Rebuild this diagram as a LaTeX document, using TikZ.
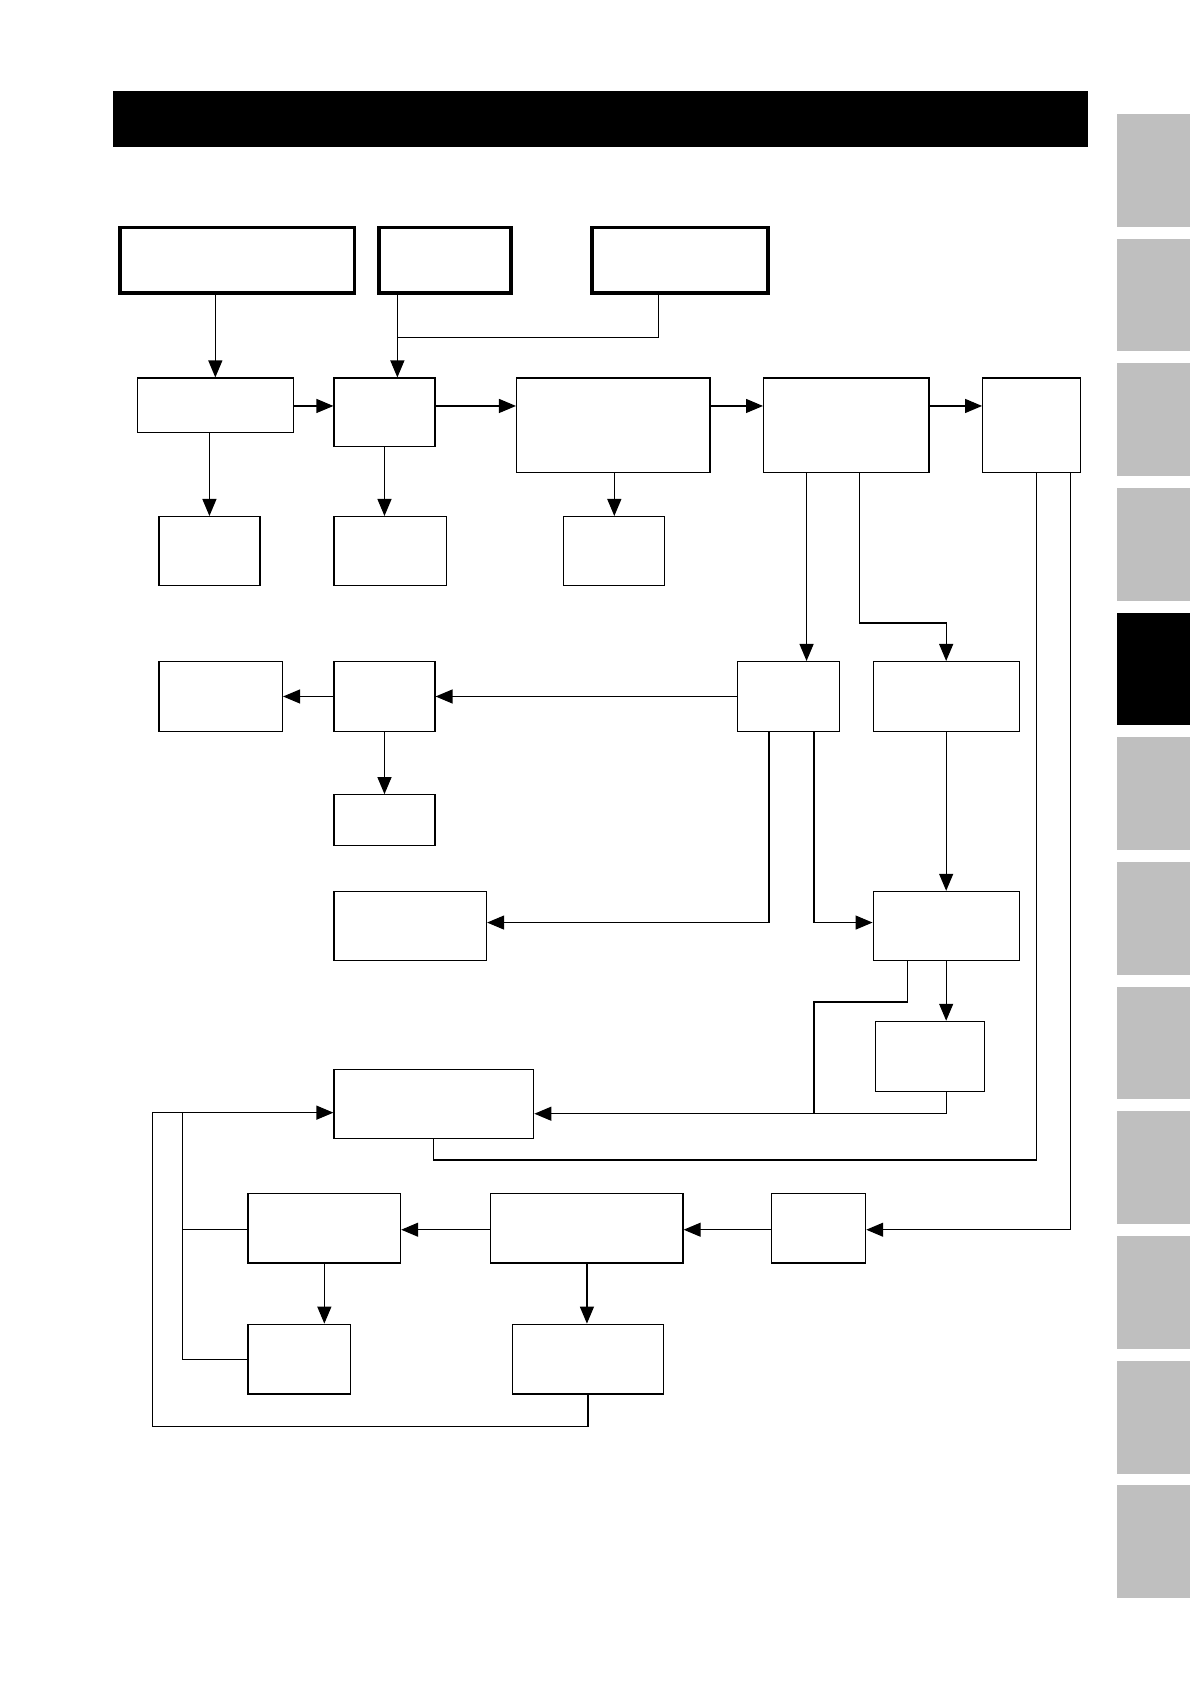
\documentclass[tikz,border=0pt]{standalone}
\usepackage{tikz,xcolor}
\usetikzlibrary{arrows.meta,fit}

\definecolor{tabgray}{gray}{0.75}

\begin{document}
\begin{tikzpicture}[x=1.074pt, y=-1.074pt,
    box/.style={draw, line width=1.2pt, inner sep=0pt},
    topbox/.style={draw, line width=3.6pt, inner sep=0pt},
    link/.style={line width=1.2pt},
    arr/.style={line width=1.2pt, -{Triangle[length=17pt, width=14pt]}}]

\useasboundingbox (0,0) rectangle (1108,1568);

% Title bar
\fill[black] (105,85) rectangle (1013,137);

% Chapter tabs
\foreach \i in {0,...,11} {
    \fill[tabgray] (1040,106+\i*116.1) rectangle (1108,211+\i*116.1);
}
\fill[black] (1040,570.4) rectangle (1108,675.4);

% ── BOXES ───────────────────────────────────────────────────────────
\node[topbox, fit={(112,212) (330,273)}] (a1) {};
\node[topbox, fit={(353,212) (476,273)}] (a2) {};
\node[topbox, fit={(551,212) (715,273)}] (a3) {};

\node[box, fit={(128,352) (273,403)}] (b1) {};
\node[box, fit={(311,352) (405,416)}] (b2) {};
\node[box, fit={(481,352) (661,440)}] (b3) {};
\node[box, fit={(711,352) (865,440)}] (b4) {};
\node[box, fit={(915,352) (1006,440)}] (b5) {};

\node[box, fit={(148,481) (242,545)}] (c1) {};
\node[box, fit={(311,481) (416,545)}] (c2) {};
\node[box, fit={(525,481) (619,545)}] (c3) {};

\node[box, fit={(148,616) (263,681)}] (d1) {};
\node[box, fit={(311,616) (405,681)}] (d2) {};
\node[box, fit={(687,616) (782,681)}] (d3) {};
\node[box, fit={(813,616) (949,681)}] (d4) {};

\node[box, fit={(311,740) (405,787)}] (e1) {};

\node[box, fit={(311,830) (453,894)}] (f1) {};
\node[box, fit={(813,830) (949,894)}] (f2) {};

\node[box, fit={(815,951) (917,1016)}] (g1) {};

\node[box, fit={(311,996) (497,1060)}] (h1) {};

\node[box, fit={(231,1111) (373,1176)}] (i1) {};
\node[box, fit={(457,1111) (636,1176)}] (i2) {};
\node[box, fit={(718,1111) (806,1176)}] (i3) {};

\node[box, fit={(231,1233) (326,1298)}] (j1) {};
\node[box, fit={(477,1233) (618,1298)}] (j2) {};

% ── LANES ───────────────────────────────────────────────────────────
\coordinate (k1) at (370,314);
\coordinate (k2) at (613,314);
\coordinate (r1) at (0,378);
\coordinate (v1) at (751,0);
\coordinate (k3) at (800,580);
\coordinate (k4) at (716,859);
\coordinate (v2) at (758,859);
\coordinate (k5) at (845,933);
\coordinate (k6) at (758,1037);
\coordinate (k7) at (965,1080);
\coordinate (k8) at (997,1145);
\coordinate (k9) at (142,1328);
\coordinate (k10) at (170,1036);

% ── CONNECTORS ──────────────────────────────────────────────────────
% Top row
\draw[arr] (a1.south -| b1.north) -- (b1.north);
\draw[link] (a3.south -| k2) -- (k2) -- (k1);
\draw[arr] (a2.south -| k1) -- (b2.north -| k1);

% Main chain
\draw[arr] (b1.east |- r1) -- (b2.west |- r1);
\draw[arr] (b2.east |- r1) -- (b3.west |- r1);
\draw[arr] (b3.east |- r1) -- (b4.west |- r1);
\draw[arr] (b4.east |- r1) -- (b5.west |- r1);

\draw[arr] (b1.south -| c1.north) -- (c1.north);
\draw[arr] (b2.south) -- (b2.south |- c2.north);
\draw[arr] (b3.south -| c3.north) -- (c3.north);

% Branches below b4
\draw[arr] (b4.south -| v1) -- (d3.north -| v1);
\draw[arr] (b4.south -| k3) -- (k3) -| (d4.north);

\draw[arr] (d3.west) -- (d3.west -| d2.east);
\draw[arr] (d2.west) -- (d2.west -| d1.east);
\draw[arr] (d2.south) -- (d2.south |- e1.north);

\draw[arr] (d3.south -| k4) -- (k4) -- (f1.east |- k4);
\draw[arr] (d3.south -| v2) -- (v2) -- (f2.west |- v2);
\draw[arr] (d4.south) -- (d4.south |- f2.north);
\draw[arr] (f2.south) -- (f2.south |- g1.north);

% Return into h1
\draw[link] (f2.south -| k5) -- (k5) -| (k6);
\draw[arr] (g1.south -| f2.south) |- (h1.east |- k6);
\draw[link] (b5.south -| k7) -- (k7) -| (h1.south);

% Lower chain
\draw[arr] (b5.south -| k8) -- (k8) -- (i3.east |- k8);
\draw[arr] (i3.west |- k8) -- (i2.east |- k8);
\draw[arr] (i2.west |- k8) -- (i1.east |- k8);
\draw[arr] (i1.south) -- (i1.south |- j1.north);
\draw[arr] (i2.south) -- (i2.south |- j2.north);

% Feedback loops
\draw[arr] (j2.south) |- (k9) |- (h1.west |- k10);
\draw[link] (i1.west |- k8) -- (k10 |- k8);
\draw[link] (j1.west) -| (k10);

\end{tikzpicture}
\end{document}
